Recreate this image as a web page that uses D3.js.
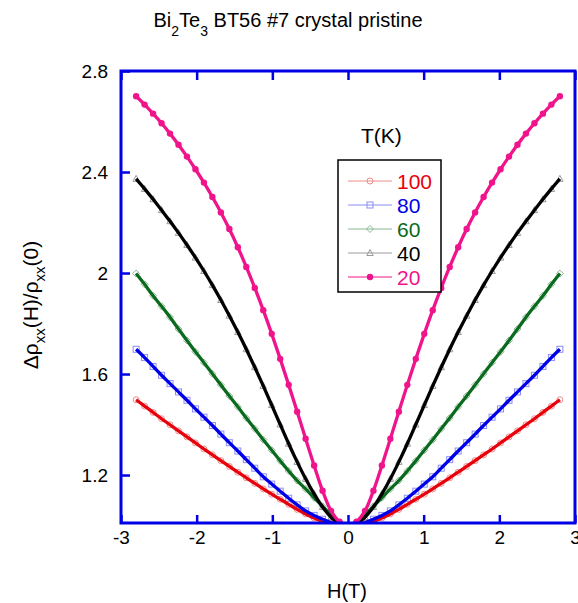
<!DOCTYPE html>
<html><head><meta charset="utf-8">
<script src="https://cdn.jsdelivr.net/npm/d3@7"></script>
<style>body{margin:0;background:#fff} svg{display:block} text{font-family:"Liberation Sans",Arial,sans-serif}</style>
</head><body>
<svg id="c" width="578" height="603"></svg>
<script>
// ---- data ----
const fieldH = [-2.8,-2.688,-2.576,-2.464,-2.352,-2.24,-2.128,-2.016,-1.904,-1.792,-1.68,-1.568,-1.456,-1.344,-1.232,-1.12,-1.008,-0.896,-0.784,-0.672,-0.56,-0.448,-0.336,-0.224,-0.112,0,
  0.112,0.224,0.336,0.448,0.56,0.672,0.784,0.896,1.008,1.12,1.232,1.344,1.456,1.568,1.68,1.792,1.904,2.016,2.128,2.24,2.352,2.464,2.576,2.688,2.8];
const rho100K = [1.498,1.473,1.448,1.423,1.399,1.375,1.351,1.327,1.303,1.280,1.257,1.234,1.211,1.189,1.167,1.145,1.124,1.104,1.084,1.064,1.046,1.030,1.017,1.008,1.002,1.000,
  1.002,1.008,1.017,1.030,1.046,1.064,1.084,1.104,1.124,1.145,1.167,1.189,1.211,1.234,1.257,1.280,1.303,1.327,1.351,1.375,1.399,1.423,1.448,1.473,1.498];
const rho80K = [1.698,1.665,1.630,1.595,1.562,1.529,1.496,1.462,1.429,1.396,1.362,1.328,1.295,1.261,1.227,1.193,1.164,1.136,1.108,1.082,1.058,1.040,1.025,1.012,1.003,1.000,
  1.003,1.012,1.025,1.040,1.058,1.082,1.108,1.136,1.164,1.193,1.227,1.261,1.295,1.328,1.362,1.396,1.429,1.462,1.496,1.529,1.562,1.595,1.630,1.665,1.698];
const rho60K = [1.998,1.955,1.910,1.868,1.825,1.778,1.733,1.688,1.645,1.601,1.557,1.513,1.470,1.426,1.383,1.340,1.298,1.256,1.216,1.178,1.145,1.110,1.076,1.042,1.012,1.000,
  1.012,1.042,1.076,1.110,1.145,1.178,1.216,1.256,1.298,1.340,1.383,1.426,1.470,1.513,1.557,1.601,1.645,1.688,1.733,1.778,1.825,1.868,1.910,1.955,1.998];
const rho40K = [2.373,2.333,2.292,2.249,2.205,2.159,2.111,2.061,2.008,1.952,1.893,1.831,1.766,1.698,1.627,1.553,1.477,1.400,1.324,1.252,1.185,1.125,1.073,1.033,1.008,1.000,
  1.008,1.033,1.073,1.125,1.185,1.252,1.324,1.400,1.477,1.553,1.627,1.698,1.766,1.831,1.893,1.952,2.008,2.061,2.111,2.159,2.205,2.249,2.292,2.333,2.373];
const rho20K = [2.700,2.667,2.631,2.593,2.552,2.508,2.461,2.411,2.358,2.301,2.240,2.174,2.102,2.024,1.941,1.853,1.759,1.660,1.557,1.451,1.344,1.238,1.138,1.058,1.015,1.000,
  1.015,1.058,1.138,1.238,1.344,1.451,1.557,1.660,1.759,1.853,1.941,2.024,2.102,2.174,2.240,2.301,2.358,2.411,2.461,2.508,2.552,2.593,2.631,2.667,2.700];
const tempLabels = ["100","80","60","40","20"];
const xTicks = [-3,-2,-1,0,1,2,3];
const yTicks = [1.2,1.6,2.0,2.4,2.8];

// ---- styling ----
const series = [
  {name: tempLabels[0], vals: rho100K, color:"#e8000b", light:"#f28c8c", shape:"circle"},
  {name: tempLabels[1], vals: rho80K,  color:"#0000e8", light:"#8c8cf5", shape:"square"},
  {name: tempLabels[2], vals: rho60K,  color:"#0a6a1e", light:"#8cb894", shape:"diamond"},
  {name: tempLabels[3], vals: rho40K,  color:"#000000", light:"#9a9a9a", shape:"triangle"},
  {name: tempLabels[4], vals: rho20K,  color:"#f0148c", light:"#f0148c", shape:"dot"}
];
const frameColor = "#0000e6";

const svg = d3.select("#c");
const L = 121, R = 575, T = 71, B = 523;
const x = d3.scaleLinear().domain([-3,3]).range([L,R]);
const y = d3.scaleLinear().domain([1.01,2.8]).range([B,T]);

svg.append("clipPath").attr("id","clip").append("rect")
  .attr("x",L).attr("y",T).attr("width",R-L).attr("height",B-T);
const plot = svg.append("g").attr("clip-path","url(#clip)");

function marker(g, shape, cx, cy, s) {
  if (shape==="circle") {
    g.append("circle").attr("cx",cx).attr("cy",cy).attr("r",3)
      .attr("fill","none").attr("stroke",s.light).attr("stroke-width",1);
  } else if (shape==="square") {
    g.append("rect").attr("x",cx-3).attr("y",cy-3).attr("width",6).attr("height",6)
      .attr("fill","none").attr("stroke",s.light).attr("stroke-width",1);
  } else if (shape==="diamond") {
    g.append("path").attr("d",`M${cx},${cy-3.5}L${cx+3.5},${cy}L${cx},${cy+3.5}L${cx-3.5},${cy}Z`)
      .attr("fill","none").attr("stroke",s.light).attr("stroke-width",1);
  } else if (shape==="triangle") {
    g.append("path").attr("d",`M${cx},${cy-3.5}L${cx+3.2},${cy+2.5}L${cx-3.2},${cy+2.5}Z`)
      .attr("fill","none").attr("stroke",s.light).attr("stroke-width",1);
  } else {
    g.append("circle").attr("cx",cx).attr("cy",cy).attr("r",3.2).attr("fill",s.color);
  }
}

const thin = d3.line().x((d,i)=>x(fieldH[i])).y(d=>y(d));
const thick = d3.line().x((d,i)=>x(fieldH[i])).y(d=>y(d)).curve(d3.curveCatmullRom);

series.forEach(s=>{
  const g = plot.append("g");
  g.append("path").attr("d",thin(s.vals)).attr("fill","none").attr("stroke",s.light).attr("stroke-width",0.8);
  s.vals.forEach((v,i)=> marker(g, s.shape, x(fieldH[i]), y(v), s));
});
series.forEach(s=>{
  plot.append("path").attr("d",thick(s.vals)).attr("fill","none")
    .attr("stroke",s.color).attr("stroke-width",3.3).attr("stroke-linejoin","round");
});

// axes
const fmtY = d => (Math.abs(d-2)<1e-9) ? "2" : d3.format(".1f")(d);
const axB = svg.append("g").attr("transform",`translate(0,${B})`)
  .call(d3.axisBottom(x).tickValues(xTicks).tickSize(-8).tickPadding(8).tickFormat(d=>String(d)));
const axT = svg.append("g").attr("transform",`translate(0,${T})`)
  .call(d3.axisTop(x).tickValues(xTicks).tickSize(-9).tickFormat(""));
const axL = svg.append("g").attr("transform",`translate(${L},0)`)
  .call(d3.axisLeft(y).tickValues(yTicks).tickSize(-9).tickPadding(13).tickFormat(fmtY));
[axB,axT,axL].forEach(a=>{
  a.select(".domain").remove();
  a.selectAll(".tick line").attr("stroke",frameColor).attr("stroke-width",2.5);
  a.selectAll(".tick text").attr("fill","#000").style("font-size","19px")
    .style("font-family","'Liberation Sans',Arial,sans-serif");
});
svg.append("rect").attr("x",L).attr("y",T).attr("width",R-L).attr("height",B-T)
  .attr("fill","none").attr("stroke",frameColor).attr("stroke-width",3);

// title
const title = svg.append("text").attr("x",288).attr("y",27).attr("text-anchor","middle").style("font-size","20px");
title.append("tspan").text("Bi");
title.append("tspan").attr("dy",9).style("font-size","14px").text("2");
title.append("tspan").attr("dy",-9).text("Te");
title.append("tspan").attr("dy",9).style("font-size","14px").text("3");
title.append("tspan").attr("dy",-9).text(" BT56 #7 crystal pristine");

// x label
svg.append("text").attr("x",347).attr("y",598).attr("text-anchor","middle").style("font-size","20px").text("H(T)");

// y label
const yl = svg.append("text").attr("transform","translate(38,305) rotate(-90)").attr("text-anchor","middle").style("font-size","21px");
yl.append("tspan").text("Δρ");
yl.append("tspan").attr("dy",7).style("font-size","15px").text("xx");
yl.append("tspan").attr("dy",-7).text("(H)/ρ");
yl.append("tspan").attr("dy",7).style("font-size","15px").text("xx");
yl.append("tspan").attr("dy",-7).text("(0)");

// legend
svg.append("text").attr("x",361).attr("y",143).style("font-size","21px").text("T(K)");
svg.append("rect").attr("x",338).attr("y",160).attr("width",103).attr("height",132)
  .attr("fill","white").attr("stroke","#000").attr("stroke-width",1.5);
series.forEach((s,i)=>{
  const cy = 181 + i*24;
  const g = svg.append("g");
  g.append("line").attr("x1",348).attr("x2",392).attr("y1",cy).attr("y2",cy)
    .attr("stroke",s.light).attr("stroke-width",1);
  marker(g, s.shape, 370, cy, s);
  g.append("text").attr("x",397).attr("y",cy+7.5).attr("fill",s.color).style("font-size","21px").text(s.name);
});
</script>
</body></html>
